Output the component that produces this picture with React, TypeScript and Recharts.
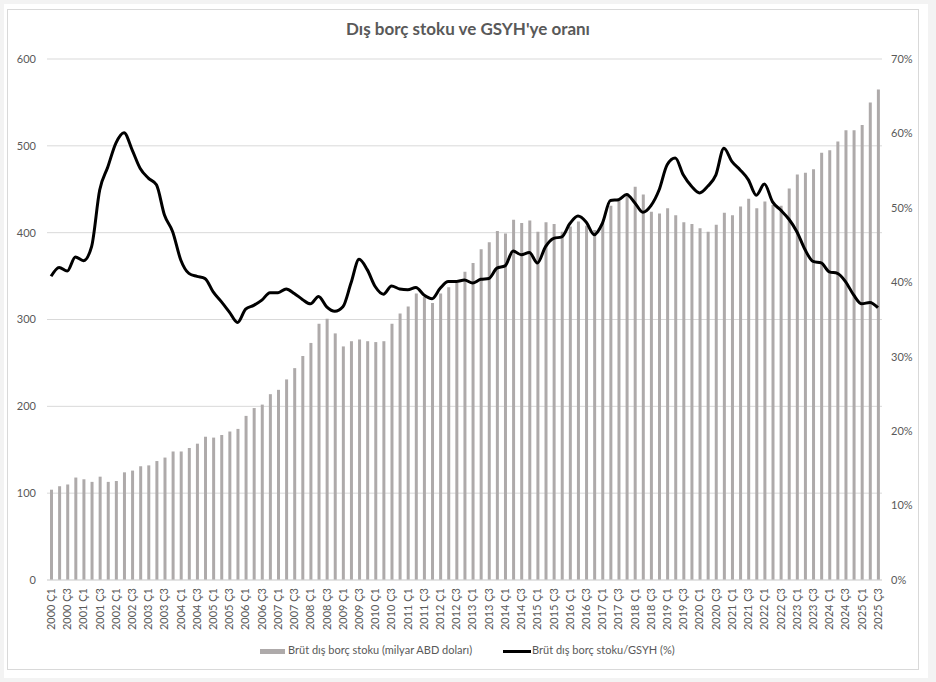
import React from "react";
import { ComposedChart, Bar, Line, XAxis, YAxis, CartesianGrid } from "recharts";

const years = [2000, 2001, 2002, 2003, 2004, 2005, 2006, 2007, 2008, 2009, 2010, 2011, 2012, 2013, 2014, 2015, 2016, 2017, 2018, 2019, 2020, 2021, 2022, 2023, 2024, 2025];
const quarters = ["Ç1", "Ç2", "Ç3", "Ç4"];
const categories: string[] = [];
years.forEach((y) => quarters.forEach((q) => categories.push(`${y} ${q}`)));
categories.splice(103);

const grossDebt = [
  104, 108, 110, 118, 116, 113, 119, 113, 114, 124,
  126, 131, 132, 137, 141, 148, 148, 152, 157, 165,
  164, 167, 171, 174, 189, 198, 202, 214, 219, 231,
  244, 258, 273, 295, 301, 284, 269, 275, 277, 275,
  274, 275, 295, 307, 315, 330, 326, 319, 330, 337,
  342, 355, 365, 381, 389, 402, 399, 415, 411, 414,
  401, 412, 410, 401, 407, 413, 408, 403, 411, 431,
  437, 445, 453, 444, 424, 422, 428, 420, 412, 410,
  405, 401, 409, 423, 420, 430, 439, 428, 436, 432,
  431, 451, 467, 469, 473, 492, 495, 505, 518, 518,
  524, 550, 565,
];

const debtToGdp = [
  40.8, 42.0, 41.5, 43.4, 42.9, 44.8, 52.4, 55.5, 58.7, 60.1,
  57.8, 55.3, 54.0, 53.1, 49.0, 46.8, 43.0, 41.2, 40.8, 40.5,
  38.7, 37.4, 36.0, 34.6, 36.4, 36.9, 37.6, 38.6, 38.6, 39.1,
  38.5, 37.7, 37.1, 38.1, 36.7, 36.1, 36.7, 39.9, 43.1, 41.7,
  39.4, 38.4, 39.5, 39.1, 39.0, 39.3, 38.3, 37.8, 39.2, 40.1,
  40.1, 40.3, 39.9, 40.4, 40.5, 41.9, 42.2, 44.2, 43.7, 44.0,
  42.6, 44.8, 45.9, 46.1, 47.9, 48.9, 48.1, 46.4, 47.9, 51.0,
  51.1, 51.8, 50.7, 49.4, 50.3, 52.4, 55.8, 56.7, 54.4, 52.9,
  52.0, 52.9, 54.4, 58.0, 56.2, 55.1, 53.8, 51.7, 53.2, 50.8,
  49.7, 48.5, 46.8, 44.4, 42.8, 42.6, 41.4, 41.2, 40.1, 38.3,
  37.1, 37.3, 36.6,
];

const leftTicks = [0, 100, 200, 300, 400, 500, 600];
const rightTicks = [0, 10, 20, 30, 40, 50, 60, 70];

const title = "Dış borç stoku ve GSYH'ye oranı";
const barName = "Brüt dış borç stoku (milyar ABD doları)";
const lineName = "Brüt dış borç stoku/GSYH (%)";

const data = categories.map((q, i) => ({ q, debt: grossDebt[i], ratio: debtToGdp[i] }));

const FONT = "Lato, 'Open Sans', sans-serif";
const TEXT = "#595959";
const BAR = "#AEAAAA";

const XTick = (props: any) => {
  const { x, y, payload } = props;
  return (
    <text
      x={x}
      y={y}
      transform={`rotate(-90, ${x}, ${y})`}
      textAnchor="end"
      dy="0.35em"
      fontSize={11}
      fontFamily={FONT}
      fill={TEXT}
    >
      {payload.value}
    </text>
  );
};

export default function App() {
  return (
    <div style={{ position: "fixed", left: 0, top: 0, width: 936, height: 682, background: "#f3f3f3", overflow: "hidden" }}>
      <div style={{ position: "absolute", left: 4, top: 4, width: 924, height: 674, background: "#ffffff" }} />
      <div style={{ position: "absolute", left: 7, top: 9, width: 912, height: 661, border: "1px solid #d9d9d9", boxSizing: "border-box" }} />
      <div
        style={{
          position: "absolute",
          left: 0,
          top: 18,
          width: 936,
          textAlign: "center",
          fontFamily: FONT,
          fontWeight: 700,
          fontSize: 17,
          color: TEXT,
        }}
      >
        {title}
      </div>
      <div style={{ position: "absolute", left: 0, top: 0 }}>
        <ComposedChart width={936} height={682} data={data} margin={{ top: 59, right: 8, left: 7, bottom: 42 }}>
          <CartesianGrid vertical={false} stroke="#d9d9d9" yAxisId="left" />
          <XAxis
            dataKey="q"
            interval={1}
            tickLine={false}
            axisLine={{ stroke: "#d9d9d9" }}
            height={60}
            tick={<XTick />}
            tickSize={0}
            tickMargin={8}
          />
          <YAxis
            yAxisId="left"
            domain={[0, 600]}
            ticks={leftTicks}
            width={40}
            tickLine={false}
            axisLine={false}
            tickSize={0}
            tickMargin={11}
            tick={{ fontSize: 11, fill: TEXT, fontFamily: FONT }}
          />
          <YAxis
            yAxisId="right"
            orientation="right"
            domain={[0, 70]}
            ticks={rightTicks}
            width={46}
            tickLine={false}
            axisLine={false}
            tickSize={0}
            tickMargin={9}
            tickFormatter={(v: number) => `${v}%`}
            tick={{ fontSize: 11, fill: TEXT, fontFamily: FONT, textAnchor: "start" }}
          />
          <Bar yAxisId="left" dataKey="debt" name={barName} fill={BAR} barSize={3} isAnimationActive={false} />
          <Line
            yAxisId="right"
            dataKey="ratio"
            name={lineName}
            type="monotone"
            stroke="#000000"
            strokeWidth={3}
            dot={false}
            activeDot={false}
            isAnimationActive={false}
          />
        </ComposedChart>
      </div>
      <div style={{ position: "absolute", left: 260, top: 649, width: 25, height: 5, background: BAR }} />
      <div style={{ position: "absolute", left: 288, top: 643, fontFamily: FONT, fontSize: 11, color: TEXT, whiteSpace: "nowrap" }}>
        {barName}
      </div>
      <div style={{ position: "absolute", left: 503, top: 650, width: 28, height: 3, background: "#000" }} />
      <div style={{ position: "absolute", left: 532, top: 643, fontFamily: FONT, fontSize: 11, color: TEXT, whiteSpace: "nowrap" }}>
        {lineName}
      </div>
    </div>
  );
}
